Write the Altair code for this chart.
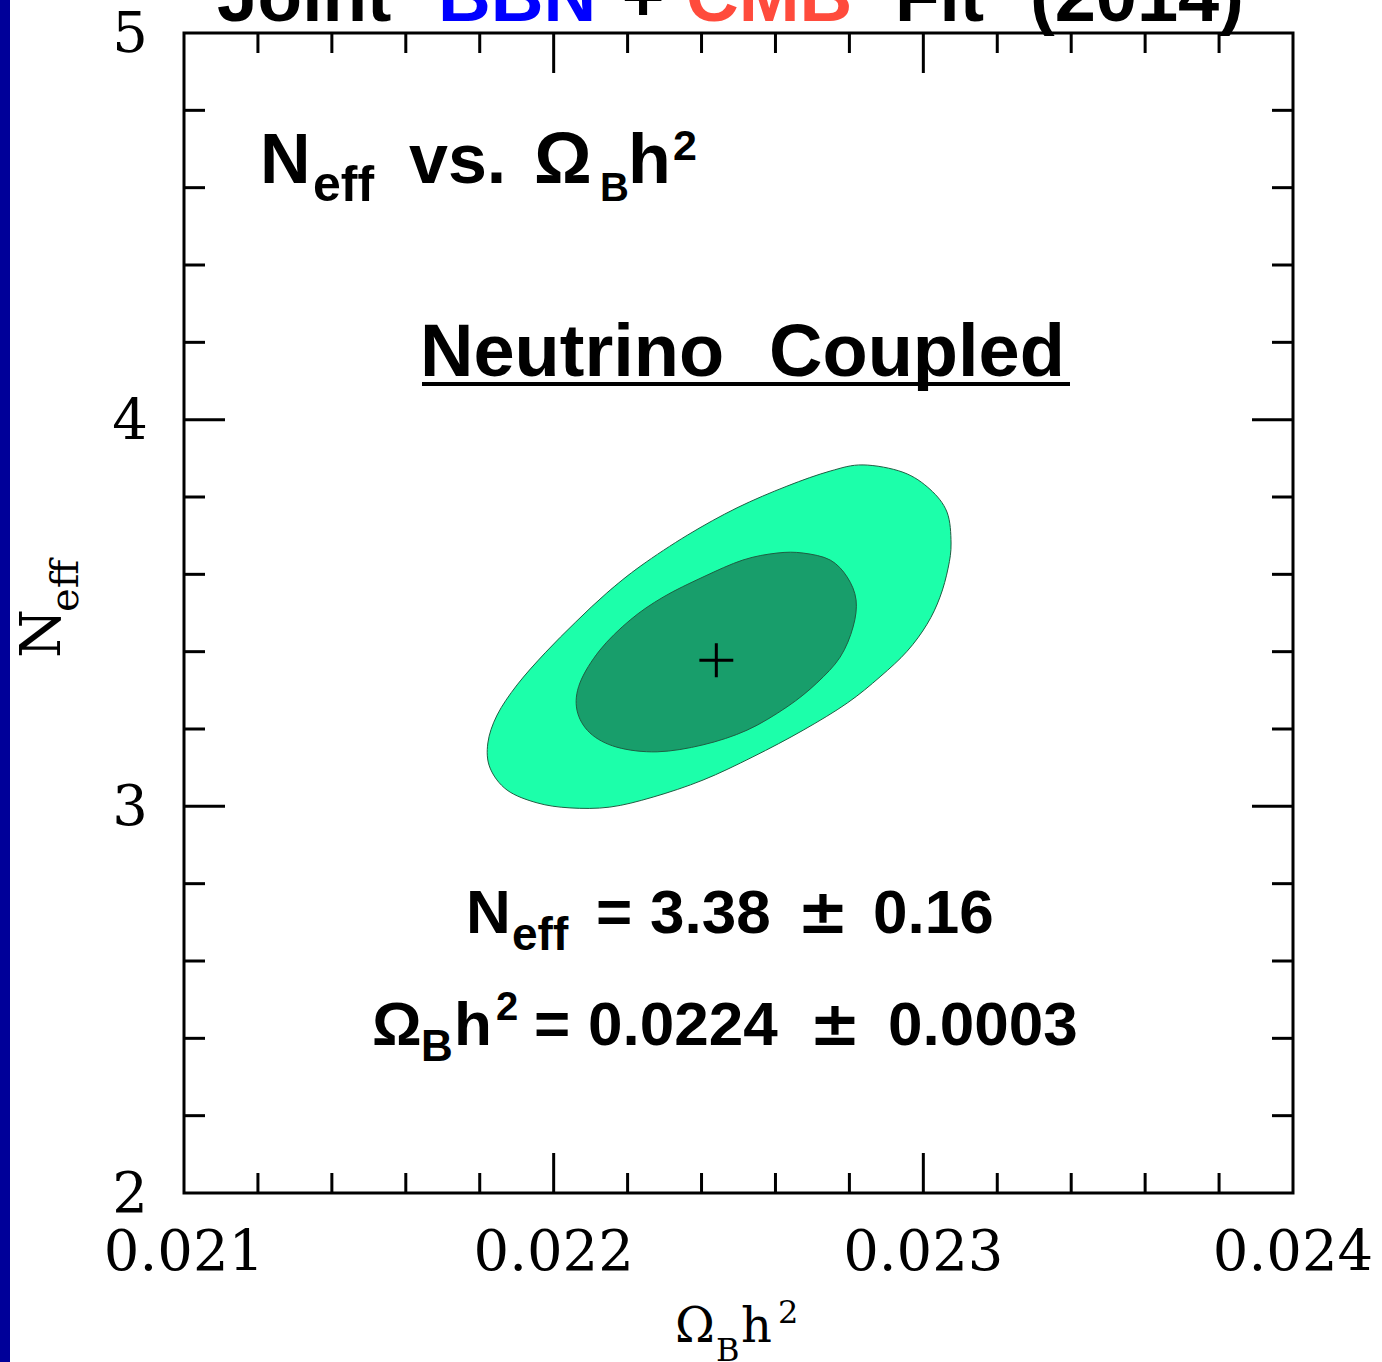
import altair as alt
import pandas as pd

# ---------------- data ----------------
# outer (95%) contour, Omega_B h^2 and N_eff
outer_x = [0.022837, 0.022945, 0.023018, 0.023064, 0.023075, 0.023067, 0.023045, 0.023010,
           0.022956, 0.022883, 0.022794, 0.022675, 0.022539, 0.022404, 0.022269, 0.022152,
           0.022044, 0.021955, 0.021874, 0.021828, 0.021822, 0.021847, 0.021901, 0.021977,
           0.022060, 0.022144, 0.022236, 0.022363, 0.022496, 0.022631, 0.022748]
outer_y = [3.883, 3.864, 3.820, 3.761, 3.681, 3.616, 3.541, 3.471,
           3.401, 3.335, 3.267, 3.197, 3.128, 3.068, 3.024, 2.998,
           2.996, 3.009, 3.042, 3.099, 3.164, 3.236, 3.314, 3.397,
           3.477, 3.552, 3.622, 3.702, 3.772, 3.828, 3.867]
# inner (68%) contour
inner_x = [0.022675, 0.022748, 0.022794, 0.022818, 0.022810, 0.022775, 0.022712, 0.022631,
           0.022523, 0.022404, 0.022280, 0.022171, 0.022098, 0.022063, 0.022071, 0.022125,
           0.022207, 0.022296, 0.022404, 0.022512, 0.022604]
inner_y = [3.655, 3.637, 3.593, 3.534, 3.464, 3.386, 3.319, 3.257,
           3.197, 3.159, 3.141, 3.153, 3.190, 3.249, 3.319, 3.404,
           3.482, 3.541, 3.593, 3.637, 3.655]
# best fit
best_x = [0.02244]
best_y = [3.378]

x_major = [0.021, 0.022, 0.023, 0.024]
x_labels = ["0.021", "0.022", "0.023", "0.024"]
x_minor = [0.0212, 0.0214, 0.0216, 0.0218, 0.0222, 0.0224, 0.0226, 0.0228,
           0.0232, 0.0234, 0.0236, 0.0238]
y_major = [2, 3, 4, 5]
y_labels = ["2", "3", "4", "5"]
y_minor = [2.2, 2.4, 2.6, 2.8, 3.2, 3.4, 3.6, 3.8, 4.2, 4.4, 4.6, 4.8]

# ---------------- layout ----------------
W, H = 1109, 1160
OX, OY = 184, 33
PAD_R, PAD_B = 1382 - OX - W, 1362 - OY - H

xs = alt.Scale(domain=[0.021, 0.024], nice=False, zero=False)
ys = alt.Scale(domain=[2, 5], nice=False, zero=False)
SANS = "Liberation Sans"
SANS2 = "DejaVu Sans"
SERIF = "DejaVu Serif"


def X(f):
    return alt.X(f, type="quantitative", scale=xs, axis=None)


def Y(f):
    return alt.Y(f, type="quantitative", scale=ys, axis=None)


layers = []

# left navy bar
layers.append(
    alt.Chart(alt.Data(values=[{}])).mark_rect(color="#000099").encode(
        x=alt.value(-OX), x2=alt.value(-OX + 10), y=alt.value(-OY), y2=alt.value(1362 - OY)
    )
)

outer_df = pd.DataFrame({"x": outer_x, "y": outer_y, "i": range(len(outer_x))})
inner_df = pd.DataFrame({"x": inner_x, "y": inner_y, "i": range(len(inner_x))})

layers.append(
    alt.Chart(outer_df).mark_line(
        fill="#1cffaa", stroke="#1e5e42", strokeWidth=1, interpolate="cardinal-closed"
    ).encode(x=X("x"), y=Y("y"), order="i:Q")
)
layers.append(
    alt.Chart(inner_df).mark_line(
        fill="#189e6b", stroke="#1e5e42", strokeWidth=1, interpolate="cardinal-closed"
    ).encode(x=X("x"), y=Y("y"), order="i:Q")
)
layers.append(
    alt.Chart(pd.DataFrame({"x": best_x, "y": best_y})).mark_point(
        shape="M-1,0L1,0M0,-1L0,1", size=1150, stroke="black", strokeWidth=3, filled=False, opacity=1
    ).encode(x=X("x"), y=Y("y"))
)


# inward ticks
def xticks(vals, ln):
    d = pd.DataFrame({"v": vals})
    bot = alt.Chart(d).mark_rule(color="black", strokeWidth=3).encode(
        x=X("v"), y=alt.value(H), y2=alt.value(H - ln))
    top = alt.Chart(d).mark_rule(color="black", strokeWidth=3).encode(
        x=X("v"), y=alt.value(0), y2=alt.value(ln))
    return [bot, top]


def yticks(vals, ln):
    d = pd.DataFrame({"v": vals})
    left = alt.Chart(d).mark_rule(color="black", strokeWidth=3).encode(
        y=Y("v"), x=alt.value(0), x2=alt.value(ln))
    right = alt.Chart(d).mark_rule(color="black", strokeWidth=3).encode(
        y=Y("v"), x=alt.value(W), x2=alt.value(W - ln))
    return [left, right]


layers += xticks(x_minor, 20) + xticks(x_major[1:-1], 40)
layers += yticks(y_minor, 21) + yticks(y_major[1:-1], 41)

# tick labels
layers.append(
    alt.Chart(pd.DataFrame({"v": x_major, "t": x_labels})).mark_text(
        font=SERIF, fontSize=56, align="center", baseline="alphabetic", color="black"
    ).encode(x=X("v"), y=alt.value(H + 77), text="t:N")
)
layers.append(
    alt.Chart(pd.DataFrame({"v": y_major, "t": y_labels})).mark_text(
        font=SERIF, fontSize=56, align="right", baseline="alphabetic", dy=19, color="black"
    ).encode(y=Y("v"), x=alt.value(148 - OX), text="t:N")
)


def txt(t, px, py, size, color="black", font=SANS, weight="bold", align="left", angle=0):
    kw = dict(font=font, fontSize=size, fontWeight=weight, color=color, align=align,
              baseline="alphabetic")
    if angle:
        kw["angle"] = angle
    return alt.Chart(alt.Data(values=[{}])).mark_text(**kw).encode(
        x=alt.value(px - OX), y=alt.value(py - OY), text=alt.value(t))


# title (cut off at the top)
layers += [
    txt("Joint", 217, 21, 73),
    txt("BBN", 438, 21, 73, color="#0000ff"),
    txt("+", 643, 21, 73, align="center"),
    txt("CMB", 686, 21, 73, color="#ff4b3c"),
    txt("Fit", 895, 21, 73),
    txt("(2014)", 1030, 21, 74),
]
# panel label
layers += [
    txt("N", 260, 183, 70),
    txt("eff", 313, 201, 50),
    txt("vs.", 409, 183, 70),
    txt("Ω", 534, 183, 72),
    txt("B", 600, 201, 40),
    txt("h", 628, 183, 70),
    txt("2", 673, 160, 43),
]
# Neutrino Coupled, underlined
layers.append(txt("Neutrino", 420, 376, 74))
layers.append(txt("Coupled", 769, 376, 74))
layers.append(
    alt.Chart(alt.Data(values=[{}])).mark_rule(color="black", strokeWidth=4).encode(
        x=alt.value(422 - OX), x2=alt.value(1070 - OX), y=alt.value(384 - OY))
)
# results
layers += [
    txt("N", 466, 933, 62),
    txt("eff", 512, 950, 46),
    txt("=", 596, 933, 62),
    txt("3.38", 650, 933, 62),
    txt("±", 797, 933, 62, font=SANS2),
    txt("0.16", 873, 933, 62),
    txt("Ω", 372, 1045, 62),
    txt("B", 421, 1061, 44),
    txt("h", 454, 1045, 62),
    txt("2", 496, 1020, 40),
    txt("=", 534, 1045, 62),
    txt("0.0224", 588, 1045, 62),
    txt("±", 809, 1045, 62, font=SANS2),
    txt("0.0003", 888, 1045, 62),
]
# axis titles
layers += [
    txt("Ω", 675, 1342, 48, font=SERIF, weight="normal"),
    txt("B", 716, 1361, 32, font=SERIF, weight="normal"),
    txt("h", 741, 1342, 48, font=SERIF, weight="normal"),
    txt("2", 778, 1323, 32, font=SERIF, weight="normal"),
    txt("N", 60, 658, 56, font=SERIF, weight="normal", angle=270),
    txt("eff", 78, 612, 40, font=SERIF, weight="normal", angle=270),
]

chart = alt.layer(*layers).properties(
    width=W, height=H,
    autosize=alt.AutoSizeParams(type="none"),
    padding={"left": OX, "top": OY, "right": PAD_R, "bottom": PAD_B},
    background="white",
).configure_view(stroke="black", strokeWidth=3)

chart.save("out.html", embed_options={"renderer": "svg", "actions": False})
